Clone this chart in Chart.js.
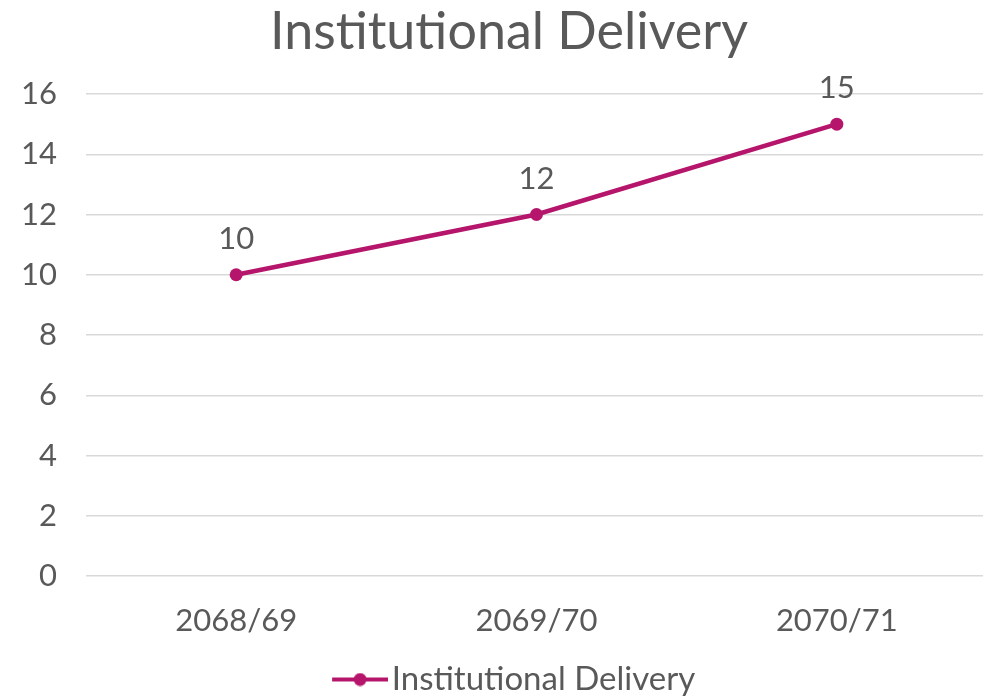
<!DOCTYPE html>
<html><head><meta charset="utf-8">
<script src="https://cdn.jsdelivr.net/npm/chart.js@4"></script>
<style>html,body{margin:0;padding:0;background:#fff;overflow:hidden}#wrap{width:1018px;height:696px}</style>
</head><body><div id="wrap"><canvas id="c"></canvas></div>
<script>
const categories = ["2068/69", "2069/70", "2070/71"];
const seriesName = "Institutional Delivery";
const values = [10, 12, 15];
const yTicks = [0, 2, 4, 6, 8, 10, 12, 14, 16];

const COLOR = "#B5166B";
const TEXT = "#595959";
const FONT = "Lato";

const legendIcon = document.createElement("canvas");
legendIcon.width = 78; legendIcon.height = 14;
(function(){
  const g = legendIcon.getContext("2d");
  g.strokeStyle = COLOR; g.lineWidth = 4;
  g.beginPath(); g.moveTo(22,7); g.lineTo(78,7); g.stroke();
  g.fillStyle = COLOR; g.beginPath(); g.arc(50,7,6.5,0,Math.PI*2); g.fill();
})();

const dataLabels = {
  id: "dataLabels",
  afterDatasetsDraw(chart) {
    const ctx = chart.ctx;
    const meta = chart.getDatasetMeta(0);
    ctx.save();
    ctx.font = "31px " + FONT;
    ctx.fillStyle = TEXT;
    ctx.textAlign = "center";
    ctx.textBaseline = "middle";
    meta.data.forEach((pt, i) => {
      ctx.fillText(String(values[i]), pt.x, pt.y - 36);
    });
    ctx.restore();
  }
};

const legendShift = {
  id: "legendShift",
  beforeDraw(chart) {
    const L = chart.legend;
    if (L && L._shiftedTop !== L.top) {
      L.top += 10; L.bottom += 10;
      L._shiftedTop = L.top;
    }
  }
};

new Chart(document.getElementById("c"), {
  type: "line",
  data: {
    labels: categories,
    datasets: [{
      label: seriesName,
      data: values,
      borderColor: COLOR,
      backgroundColor: COLOR,
      borderWidth: 4.5,
      pointRadius: 6.5,
      pointHoverRadius: 6.5,
      pointBackgroundColor: COLOR,
      pointBorderWidth: 0,
      tension: 0
    }]
  },
  options: {
    responsive: true,
    maintainAspectRatio: false,
    animation: false,
    layout: { padding: { left: 0, right: 0, top: 0, bottom: 0 } },
    plugins: {
      title: {
        display: true,
        text: seriesName,
        color: TEXT,
        font: { family: FONT, size: 52, weight: "normal" },
        padding: { top: 1, bottom: 30.6 }
      },
      legend: {
        position: "bottom",
        labels: {
          color: TEXT,
          font: { family: FONT, size: 33 },
          usePointStyle: true,
          pointStyleWidth: 52.5,
          padding: 10,
          generateLabels: (chart) => [{
            text: seriesName,
            pointStyle: legendIcon,
            fillStyle: COLOR,
            strokeStyle: COLOR,
            fontColor: TEXT,
            lineWidth: 0,
            datasetIndex: 0
          }]
        }
      },
      tooltip: { enabled: false }
    },
    scales: {
      x: {
        offset: true,
        grid: { display: false },
        border: { display: false },
        ticks: { color: TEXT, font: { family: FONT, size: 31 }, padding: 18 },
        afterFit: (axis) => { axis.height = 67; }
      },
      y: {
        min: 0, max: 16,
        afterBuildTicks: (axis) => { axis.ticks = yTicks.map(v => ({ value: v })); },
        grid: { color: "#D9D9D9", lineWidth: 1.5, drawTicks: false },
        border: { display: false },
        ticks: { color: TEXT, font: { family: FONT, size: 31 }, padding: 29 },
        afterFit: (axis) => { axis.width = 86; }
      },
      yRight: {
        type: "linear",
        position: "right",
        display: true,
        grid: { display: false, drawTicks: false },
        border: { display: false },
        ticks: { display: false },
        afterFit: (axis) => { axis.width = 31; }
      }
    }
  },
  plugins: [dataLabels, legendShift]
});
</script></body></html>
